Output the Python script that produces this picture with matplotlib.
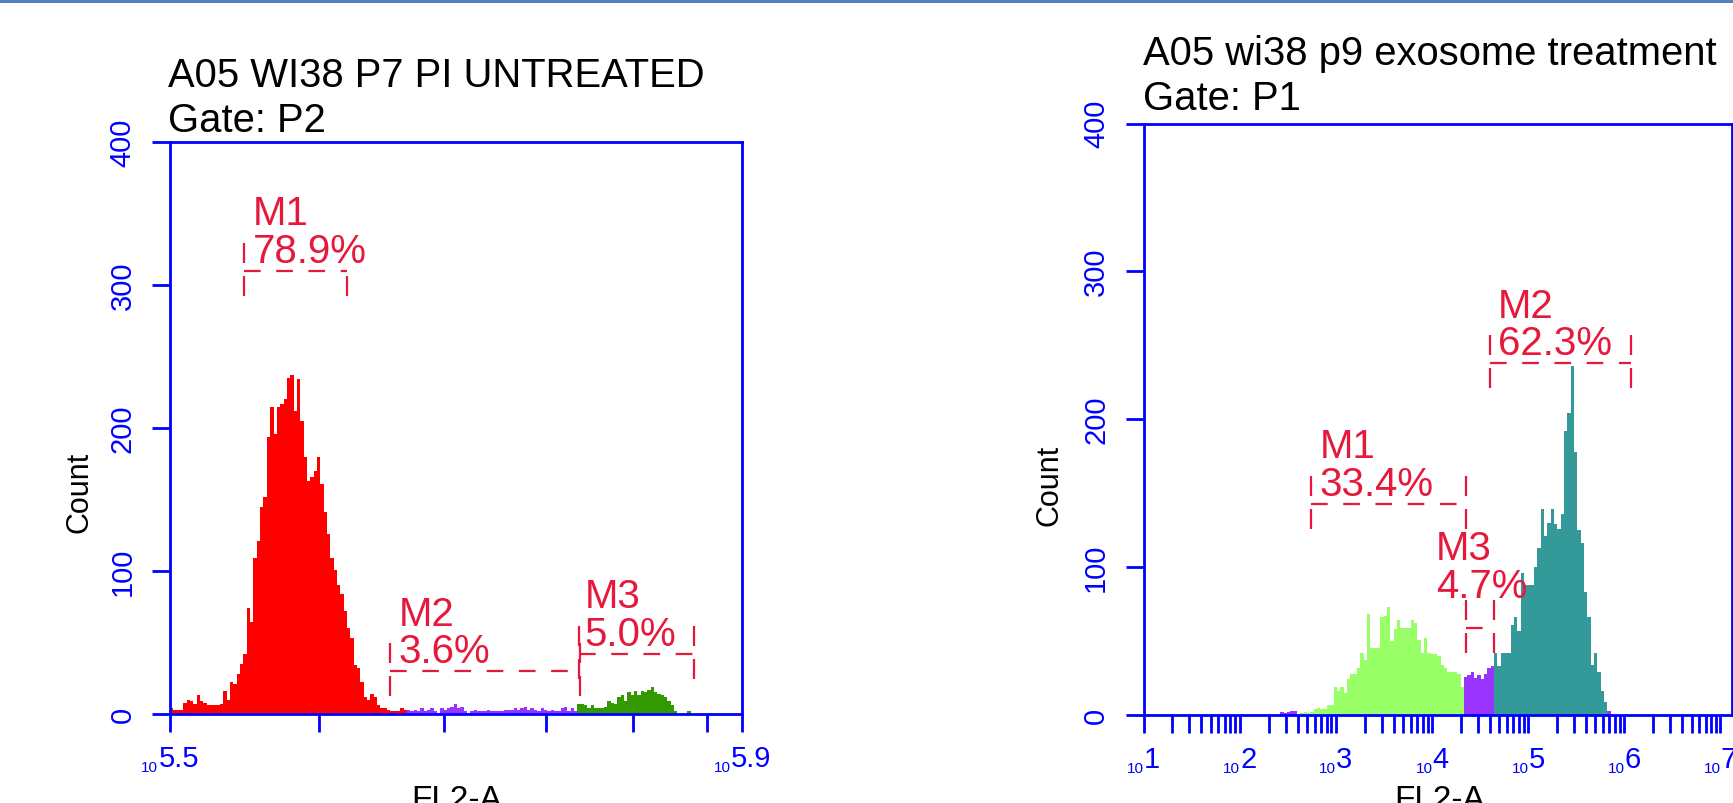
import numpy as np
import matplotlib
matplotlib.use("Agg")
import matplotlib.pyplot as plt
from matplotlib.patches import Rectangle
from matplotlib.ticker import FixedLocator, NullFormatter, NullLocator

plt.rcParams['font.family'] = ['Liberation Sans', 'DejaVu Sans']

W, H, DPI = 1733, 803, 100
BLUE = '#0000FF'
RED_TXT = '#E6193C'

# ---------------- data : left panel ----------------
left_title = "A05 WI38 P7 PI UNTREATED"
left_gate = "Gate: P2"
left_bin_start = 5.487          # log10(FL2-A) of first bin edge
left_bin_width = 0.002584       # bin width in decades
left_red = [4, 3, 3, 3, 8, 10, 9, 7, 13, 9,
            8, 6, 6, 6, 6, 7, 16, 10, 22, 21,
            28, 35, 42, 74, 64, 109, 121, 145, 152, 194,
            215, 196, 215, 217, 220, 235, 237, 212, 234, 205,
            180, 163, 166, 170, 180, 161, 141, 126, 109, 101,
            90, 84, 72, 60, 53, 34, 32, 22, 12, 10,
            14, 12, 6, 4, 4, 3, 2, 2, 2, 4,
            3]                                   # bins 0-70
left_purple = [3, 2, 3, 2, 4, 2, 3, 4, 2, 1,
               4, 3, 4, 5, 7, 4, 5, 2, 1, 2,
               3, 2, 2, 2, 3, 2, 2, 2, 2, 3,
               3, 3, 4, 3, 4, 5, 3, 4, 3, 2,
               4, 3, 2, 3, 2, 2, 4, 5, 2, 4,
               2]                                # bins 71-121
left_green = [7, 7, 6, 4, 6, 4, 4, 4, 5, 9,
              8, 7, 12, 13, 9, 15, 13, 16, 13, 16,
              15, 17, 19, 15, 14, 13, 12, 9, 6, 2,
              0, 0, 0, 2]                        # bins 122-155
left_xlim = (10 ** 5.487, 10 ** 5.930)
left_inner_ticks = [4e5, 5e5, 6e5, 7e5, 8e5]
left_end_labels = ["5.5", "5.9"]

left_marker_names = ["M1", "M2", "M3"]
left_marker_pcts = ["78.9%", "3.6%", "5.0%"]
left_marker_lo = [3.504e5, 4.545e5, 6.357e5]
left_marker_hi = [4.210e5, 6.379e5, 7.804e5]
left_marker_level = [310, 30, 42]

# ---------------- data : right panel ----------------
right_title = "A05 wi38 p9 exosome treatment"
right_gate = "Gate: P1"
right_bin_start = 2.3889
right_bin_width = 0.03469
right_purple_a = [2, 1, 2, 3, 3]                 # bins 1-5
right_green = [0, 1, 2, 1, 2, 4, 5, 4, 4, 7,
               7, 19, 16, 19, 15, 24, 28, 28, 32, 42,
               37, 68, 45, 45, 45, 66, 67, 73, 50, 58,
               64, 59, 59, 59, 64, 62, 51, 42, 52, 42,
               41, 41, 40, 34, 32, 29, 29, 29, 28, 19]   # bins 6-55
right_purple_b = [26, 27, 29, 25, 27, 24, 28, 32, 33]    # bins 56-64
right_teal = [42, 33, 42, 42, 42, 61, 66, 57, 96, 88,
              88, 88, 100, 113, 139, 121, 130, 139, 129, 126,
              136, 192, 204, 236, 178, 125, 116, 83, 66, 34,
              42, 29, 16, 9]                      # bins 65-98
right_purple_c = [3]                              # bin 99
right_xlim = (10 ** 1, 10 ** 7.12)
right_decades = [1, 2, 3, 4, 5, 6, 7]

right_marker_names = ["M1", "M2", "M3"]
right_marker_pcts = ["33.4%", "62.3%", "4.7%"]
right_marker_lo = [556, 40270, 22440]
right_marker_hi = [22440, 1.164e6, 43650]
right_marker_level = [143, 238, 59]

y_ticks = [0, 100, 200, 300, 400]

# ---------------- layout ----------------
fig = plt.figure(figsize=(17.335, 8.035), dpi=DPI)
fig.patch.set_facecolor('white')


def fx(px):
    return px / W


def fy(py):
    return (H - py) / H


def px_rect(x0, top, x1, bottom):
    return [x0 / W, (H - bottom) / H, (x1 - x0) / W, (bottom - top) / H]


axL = fig.add_axes(px_rect(170, 142.5, 742, 714))
axR = fig.add_axes(px_rect(1143.2, 124, 1731.5, 715))


def style(ax):
    for s in ax.spines.values():
        s.set_color(BLUE)
        s.set_linewidth(2.0)
    ax.set_ylim(0, 400)
    ax.yaxis.set_major_locator(FixedLocator(y_ticks))
    ax.yaxis.set_minor_locator(NullLocator())
    ax.tick_params(axis='both', which='both', direction='out', length=13,
                   width=2.0, color=BLUE, labelcolor=BLUE)
    ax.tick_params(axis='y', labelsize=21, pad=11, labelrotation=90)
    for lab in ax.get_yticklabels():
        lab.set_va('center')
    ax.xaxis.set_major_formatter(NullFormatter())
    ax.xaxis.set_minor_formatter(NullFormatter())


axL.set_xscale('log')
axR.set_xscale('log')
axL.set_xlim(*left_xlim)
axR.set_xlim(*right_xlim)
style(axL)
style(axR)
axL.xaxis.set_major_locator(FixedLocator([left_xlim[0]] + left_inner_ticks + [left_xlim[1]]))
axL.xaxis.set_minor_locator(NullLocator())
axR.xaxis.set_major_locator(FixedLocator([10.0 ** d for d in right_decades]))
axR.xaxis.set_minor_locator(FixedLocator([k * 10.0 ** d for d in right_decades[:-1] for k in range(2, 10)]))


def segment(ax, start, width, first, counts, color):
    n = len(counts)
    edges = 10 ** (start + width * np.arange(first, first + n + 1))
    ax.stairs(counts, edges, fill=True, color=color, linewidth=0, zorder=2)


segment(axL, left_bin_start, left_bin_width, 0, left_red, '#FF0000')
segment(axL, left_bin_start, left_bin_width, 71, left_purple, '#9933FF')
segment(axL, left_bin_start, left_bin_width, 122, left_green, '#339900')

segment(axR, right_bin_start, right_bin_width, 1, right_purple_a, '#9933FF')
segment(axR, right_bin_start, right_bin_width, 6, right_green, '#99FF66')
segment(axR, right_bin_start, right_bin_width, 56, right_purple_b, '#9933FF')
segment(axR, right_bin_start, right_bin_width, 65, right_teal, '#339999')
segment(axR, right_bin_start, right_bin_width, 99, right_purple_c, '#9933FF')

PT = 72.0 / DPI


def draw_markers(ax, names, pcts, los, his, levels, ppc, text_offsets, right_top):
    lw = 1.6
    for i in range(len(names)):
        lo, hi, h = los[i], his[i], levels[i]
        ax.plot([lo, hi], [h, h], color=RED_TXT, lw=lw, ls=(0, (7.5, 7.0)),
                dash_capstyle='butt', zorder=4)
        ends = [(lo, True), (hi, right_top[i])]
        for x, top in ends:
            ax.plot([x, x], [h - 5 / ppc, h - 25 / ppc], color=RED_TXT, lw=lw,
                    solid_capstyle='butt', zorder=4)
            if top:
                ax.plot([x, x], [h + 8 / ppc, h + 28 / ppc], color=RED_TXT, lw=lw,
                        solid_capstyle='butt', zorder=4)
        dx, dy_name, dy_pct = text_offsets[i]
        ax.annotate(names[i], xy=(lo, h), xytext=(dx * PT, dy_name * PT),
                    textcoords='offset points', ha='left', va='baseline',
                    color=RED_TXT, fontsize=29, zorder=5)
        ax.annotate(pcts[i], xy=(lo, h), xytext=(dx * PT, dy_pct * PT),
                    textcoords='offset points', ha='left', va='baseline',
                    color=RED_TXT, fontsize=29, zorder=5)


ppcL = 571.5 / 400.0
ppcR = 591.0 / 400.0
draw_markers(axL, left_marker_names, left_marker_pcts, left_marker_lo, left_marker_hi,
             left_marker_level, ppcL, [(8, 46, 8.5), (8, 46, 8.5), (6, 46, 8.5)],
             [False, True, True])
draw_markers(axR, right_marker_names, right_marker_pcts, right_marker_lo, right_marker_hi,
             right_marker_level, ppcR, [(8, 46, 8.5), (8, 46, 8.5), (-30, 68, 30)],
             [True, True, True])

renderer = fig.canvas.get_renderer()


def log_label(ax, xval, exp_str):
    sub = ax.annotate('10', xy=(xval, 0), xycoords=('data', 'axes fraction'),
                      xytext=(0, 0), textcoords='offset points', fontsize=11,
                      color=BLUE, ha='left', va='baseline', annotation_clip=False)
    exp = ax.annotate(exp_str, xy=(xval, 0), xycoords=('data', 'axes fraction'),
                      xytext=(0, 0), textcoords='offset points', fontsize=21,
                      color=BLUE, ha='left', va='baseline', annotation_clip=False)
    ws = sub.get_window_extent(renderer).width
    we = exp.get_window_extent(renderer).width
    x0 = -(ws + we) / 2.0
    sub.xyann = (x0 * PT, -58 * PT)
    exp.xyann = ((x0 + ws) * PT, -53 * PT)


log_label(axL, left_xlim[0], left_end_labels[0])
log_label(axL, left_xlim[1], left_end_labels[1])
for d in right_decades:
    log_label(axR, 10.0 ** d, str(d))

# titles
fig.text(fx(168), fy(87.3), left_title, fontsize=28.8, va='baseline', ha='left')
fig.text(fx(168), fy(131.7), left_gate, fontsize=28.8, va='baseline', ha='left')
fig.text(fx(1142.6), fy(65), right_title, fontsize=28.8, va='baseline', ha='left')
fig.text(fx(1142.6), fy(110), right_gate, fontsize=28.8, va='baseline', ha='left')

# axis labels
fig.text(fx(79), fy(492), 'Count', rotation=90, ha='center', va='center', fontsize=22)
fig.text(fx(1049), fy(485), 'Count', rotation=90, ha='center', va='center', fontsize=22)
fig.text(fx(456), fy(808.7), 'FL2-A', ha='center', va='baseline', fontsize=24)
fig.text(fx(1439), fy(808.7), 'FL2-A', ha='center', va='baseline', fontsize=24)

# top frame stripe
fig.add_artist(Rectangle((0, fy(3)), 1, 3 / H, transform=fig.transFigure,
                         color='#4F81BD', lw=0))

fig.savefig('out.png', dpi=DPI)
